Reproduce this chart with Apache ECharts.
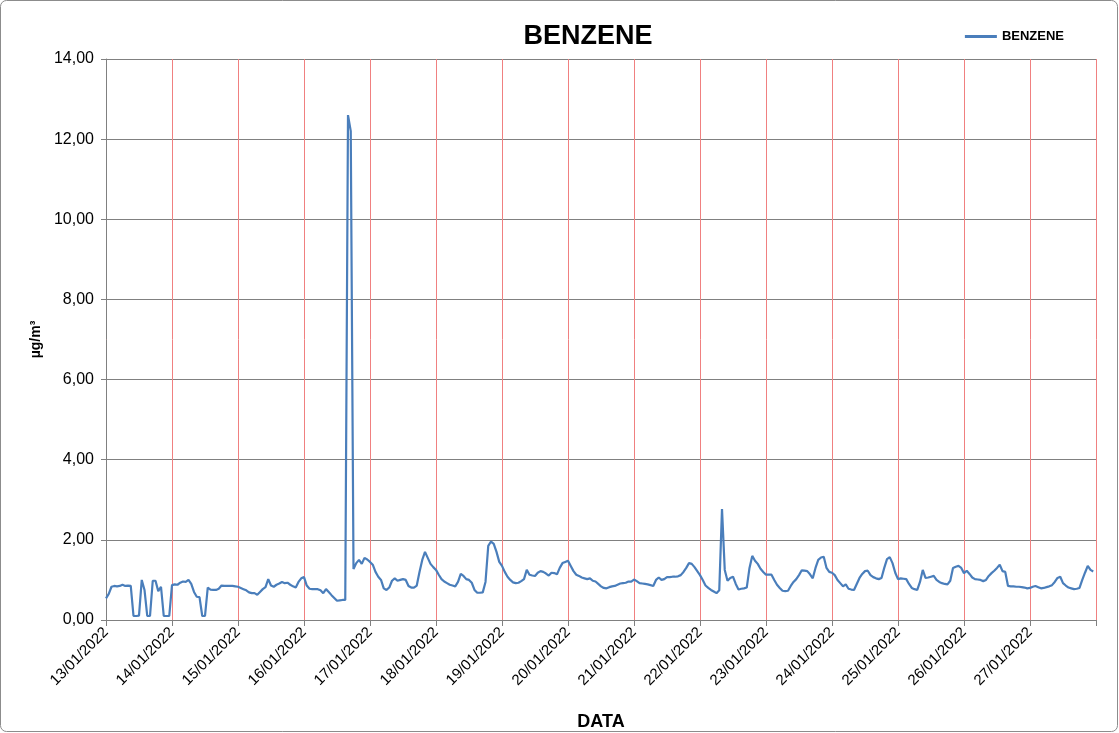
<!DOCTYPE html>
<html>
<head>
<meta charset="utf-8">
<script src="https://cdn.jsdelivr.net/npm/echarts@6/dist/echarts.min.js"></script>
<style>html,body{margin:0;padding:0;background:#fff;}#c{width:1119px;height:733px;}</style>
</head>
<body>
<div id="c"></div>
<script>
// Hourly benzene values (µg/m³), 13/01/2022 00:00 .. 27/01/2022 23:00
const day13 = [0.54,0.65,0.83,0.85,0.84,0.85,0.88,0.85,0.86,0.85,0.10,0.10,0.11,1.00,0.75,0.10,0.10,0.98,0.98,0.72,0.83,0.10,0.10,0.10];
const day14 = [0.87,0.89,0.88,0.93,0.96,0.95,1.00,0.90,0.70,0.58,0.57,0.10,0.10,0.81,0.76,0.75,0.75,0.78,0.86,0.85,0.85,0.85,0.85,0.84];
const day15 = [0.83,0.80,0.77,0.74,0.69,0.67,0.67,0.63,0.70,0.77,0.82,1.02,0.86,0.83,0.88,0.91,0.95,0.92,0.93,0.88,0.84,0.81,0.95,1.04];
const day16 = [1.07,0.86,0.78,0.77,0.77,0.77,0.74,0.67,0.77,0.70,0.62,0.55,0.48,0.49,0.50,0.50,12.60,12.20,1.27,1.42,1.50,1.40,1.55,1.51];
const day17 = [1.45,1.38,1.20,1.08,1.00,0.79,0.75,0.81,0.98,1.04,0.98,1.00,1.02,1.00,0.85,0.81,0.81,0.86,1.20,1.50,1.70,1.55,1.40,1.32];
const day18 = [1.25,1.13,1.02,0.96,0.92,0.88,0.86,0.84,0.95,1.15,1.10,1.02,1.00,0.93,0.75,0.68,0.68,0.69,0.95,1.85,1.96,1.90,1.70,1.45];
const day19 = [1.35,1.20,1.08,1.00,0.94,0.92,0.93,0.97,1.02,1.25,1.13,1.11,1.10,1.18,1.22,1.20,1.16,1.11,1.18,1.17,1.14,1.30,1.42,1.45];
const day20 = [1.48,1.35,1.22,1.13,1.10,1.06,1.04,1.02,1.04,0.98,0.96,0.90,0.84,0.80,0.79,0.82,0.84,0.85,0.88,0.91,0.92,0.93,0.96,0.96];
const day21 = [1.01,0.97,0.92,0.91,0.90,0.89,0.87,0.85,1.00,1.06,1.00,1.02,1.07,1.07,1.08,1.08,1.09,1.12,1.20,1.30,1.42,1.40,1.32,1.22];
const day22 = [1.12,1.00,0.86,0.80,0.75,0.71,0.67,0.74,2.77,1.25,0.98,1.05,1.08,0.90,0.76,0.78,0.79,0.81,1.30,1.60,1.48,1.40,1.28,1.20];
const day23 = [1.13,1.13,1.13,1.00,0.88,0.80,0.73,0.72,0.73,0.85,0.95,1.02,1.12,1.24,1.23,1.22,1.14,1.04,1.30,1.50,1.56,1.58,1.30,1.20];
const day24 = [1.18,1.12,1.00,0.92,0.84,0.89,0.78,0.76,0.75,0.90,1.05,1.15,1.22,1.23,1.12,1.07,1.04,1.02,1.05,1.30,1.52,1.57,1.42,1.18];
const day25 = [1.02,1.04,1.03,1.02,0.90,0.80,0.77,0.75,0.95,1.25,1.05,1.06,1.08,1.10,1.00,0.95,0.92,0.90,0.89,0.98,1.30,1.33,1.35,1.30];
const day26 = [1.17,1.23,1.15,1.06,1.02,1.01,1.00,0.97,1.00,1.10,1.17,1.23,1.30,1.38,1.22,1.20,0.85,0.84,0.84,0.83,0.83,0.82,0.81,0.79];
const day27 = [0.80,0.83,0.85,0.82,0.79,0.80,0.82,0.84,0.87,0.95,1.05,1.08,0.92,0.86,0.81,0.79,0.77,0.78,0.80,1.00,1.18,1.35,1.25,1.21];

const dayLabels = ['13/01/2022','14/01/2022','15/01/2022','16/01/2022','17/01/2022','18/01/2022','19/01/2022','20/01/2022','21/01/2022','22/01/2022','23/01/2022','24/01/2022','25/01/2022','26/01/2022','27/01/2022'];
const yTicks = [0,2,4,6,8,10,12,14];

const allDays = [day13,day14,day15,day16,day17,day18,day19,day20,day21,day22,day23,day24,day25,day26,day27];
const seriesData = [];
allDays.forEach((d, di) => d.forEach((v, hi) => seriesData.push([di*24 + hi, v])));

const chart = echarts.init(document.getElementById('c'));
chart.setOption({
  animation: false,
  backgroundColor: '#fff',
  textStyle: { fontFamily: 'Liberation Sans, Arial, sans-serif' },
  title: {
    text: 'BENZENE', left: 583, top: 18, textAlign: 'center',
    textStyle: { fontSize: 27, fontWeight: 'bold', color: '#000', fontFamily: 'Liberation Sans, Arial, sans-serif' }
  },
  legend: {
    right: 50, top: 25, itemWidth: 32, itemHeight: 3, itemGap: 4,
    icon: 'rect',
    textStyle: { fontSize: 13, fontWeight: 'bold', color: '#000', fontFamily: 'Liberation Sans, Arial, sans-serif', padding: [0,0,0,0] },
    data: ['BENZENE']
  },
  grid: { left: 106, right: 23, top: 59, bottom: 113, containLabel: false, outerBoundsMode: 'none' },
  xAxis: {
    type: 'value', min: 0, max: 360, interval: 24,
    name: 'DATA', nameLocation: 'middle', nameGap: 93,
    nameTextStyle: { fontSize: 18, fontWeight: 'bold', color: '#000' },
    axisLine: { show: true, lineStyle: { color: '#808080', width: 1 } },
    axisTick: { show: true, length: 6, lineStyle: { color: '#808080' } },
    axisLabel: {
      rotate: 45, fontSize: 15, color: '#000', margin: 10,
      formatter: v => { const i = Math.round(v/24); return dayLabels[i] || ''; }
    },
    splitLine: { show: true, lineStyle: { color: '#f08080', width: 1 } }
  },
  yAxis: {
    type: 'value', min: 0, max: 14, interval: 2,
    name: 'µg/m³', nameLocation: 'middle', nameGap: 62,
    nameTextStyle: { fontSize: 14, fontWeight: 'bold', color: '#000' },
    axisLine: { show: true, lineStyle: { color: '#808080', width: 1 } },
    axisTick: { show: true, length: 5, lineStyle: { color: '#808080' } },
    axisLabel: { fontSize: 16, color: '#000', margin: 12, formatter: v => v.toFixed(2).replace('.', ',') },
    splitLine: { show: true, lineStyle: { color: '#808080', width: 1 } }
  },
  series: [{
    name: 'BENZENE', type: 'line', data: seriesData, showSymbol: false, symbol: 'none',
    lineStyle: { color: '#4a7ebb', width: 2.2 }, itemStyle: { color: '#4a7ebb' }
  }],
  graphic: [{
    type: 'rect', shape: { x: 0.5, y: 0.5, width: 1117, height: 731, r: 6 },
    style: { fill: 'none', stroke: '#8c8c8c', lineWidth: 1 }, silent: true
  }]
});
</script>
</body>
</html>
